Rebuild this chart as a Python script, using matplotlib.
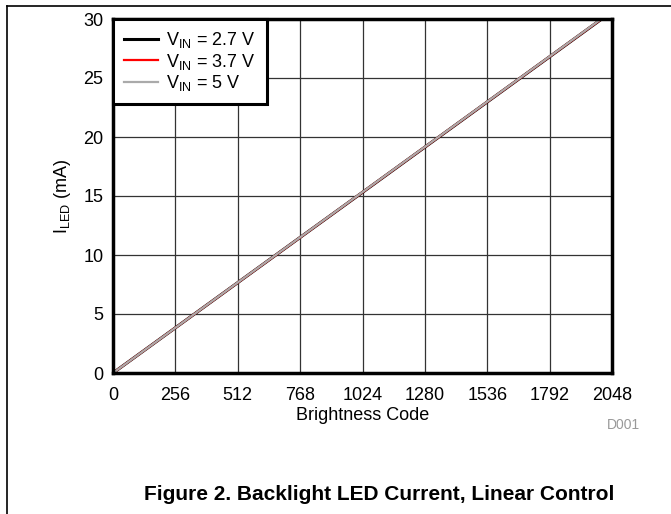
import matplotlib
matplotlib.use("Agg")
import matplotlib.pyplot as plt
from matplotlib.lines import Line2D

plt.rcParams['font.family'] = ['Liberation Sans', 'DejaVu Sans']

codes = [0, 256, 512, 768, 1024, 1280, 1536, 1792, 2047]
i_27 = [0, 3.83, 7.66, 11.49, 15.31, 19.14, 22.97, 26.80, 30.62]
i_37 = [0, 3.83, 7.66, 11.49, 15.32, 19.15, 22.98, 26.81, 30.63]
i_50 = [0, 3.83, 7.67, 11.50, 15.33, 19.16, 22.99, 26.82, 30.65]
xticks = [0, 256, 512, 768, 1024, 1280, 1536, 1792, 2048]
yticks = [0, 5, 10, 15, 20, 25, 30]

fig = plt.figure(figsize=(6.71, 5.14), dpi=100)
ax = fig.add_axes([113/671, 1-373/514, (612-113)/671, (373-19)/514])

ax.plot(codes, i_27, color='black', lw=2.2, label=r'V$_{\mathregular{IN}}$ = 2.7 V', zorder=3)
ax.plot(codes, i_37, color='red', lw=1.6, label=r'V$_{\mathregular{IN}}$ = 3.7 V', zorder=4)
ax.plot(codes, i_50, color='#aaaaaa', lw=1.6, label=r'V$_{\mathregular{IN}}$ = 5 V', zorder=5)

ax.set_xlim(0, 2048)
ax.set_ylim(0, 30)
ax.set_xticks(xticks)
ax.set_yticks(yticks)
ax.tick_params(axis='x', length=0, labelsize=13, pad=10)
ax.tick_params(axis='y', length=0, labelsize=13, pad=7)
ax.grid(True, color='#333333', lw=0.9)
for s in ax.spines.values():
    s.set_linewidth(2.5)
    s.set_zorder(6)

ax.set_xlabel('Brightness Code', fontsize=13, labelpad=2)
ax.set_ylabel(r'I$_{\mathregular{LED}}$ (mA)', fontsize=13, labelpad=7)

leg = ax.legend(loc='upper left', fontsize=13, frameon=True, fancybox=False,
                borderaxespad=0, handlelength=1.9, handletextpad=0.45,
                labelspacing=0.1, borderpad=0.6)
leg.get_frame().set_edgecolor('black')
leg.get_frame().set_linewidth(2.2)
leg.get_frame().set_alpha(1)
leg.set_zorder(10)

fig.text(623/671, 1-425/514, 'D001', color='#999999', fontsize=10, ha='center', va='center')
fig.text(379/671, 1-495/514, 'Figure 2. Backlight LED Current, Linear Control',
         fontsize=15, fontweight='bold', ha='center', va='center')

fig.add_artist(Line2D([7/671, 1], [1-6/514, 1-6/514], color='black', lw=1.2, transform=fig.transFigure))
fig.add_artist(Line2D([7/671, 7/671], [0, 1-6/514], color='black', lw=1.2, transform=fig.transFigure))

fig.savefig('out.png', dpi=100)
